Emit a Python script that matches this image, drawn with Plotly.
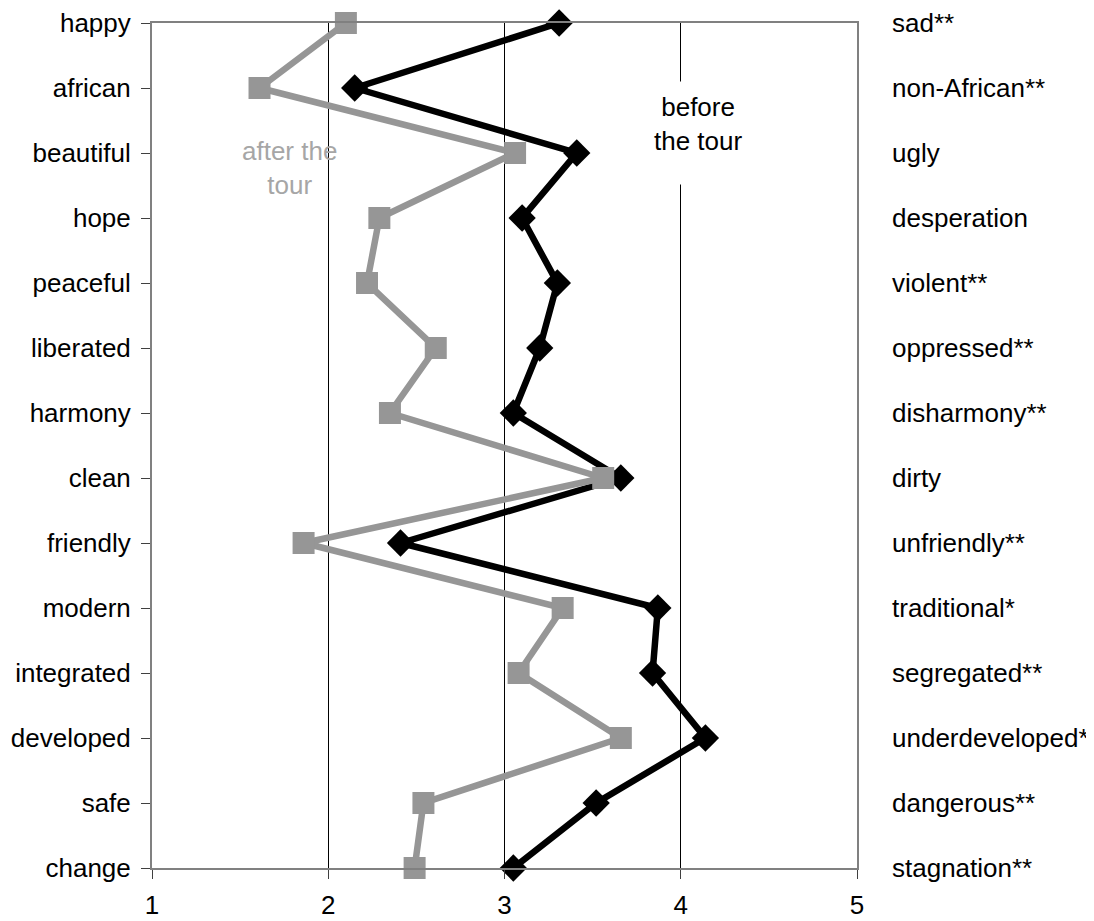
import plotly.graph_objects as go

left_labels = ["happy", "african", "beautiful", "hope", "peaceful", "liberated", "harmony",
               "clean", "friendly", "modern", "integrated", "developed", "safe", "change"]
right_labels = ["sad**", "non-African**", "ugly", "desperation", "violent**", "oppressed**",
                "disharmony**", "dirty", "unfriendly**", "traditional*", "segregated**",
                "underdeveloped*", "dangerous**", "stagnation**"]
before_tour = [3.31, 2.15, 3.41, 3.10, 3.30, 3.20, 3.05, 3.66, 2.41, 3.87, 3.84, 4.14, 3.52, 3.05]
after_tour = [2.10, 1.61, 3.06, 2.29, 2.22, 2.61, 2.35, 3.56, 1.86, 3.33, 3.08, 3.66, 2.54, 2.49]
x_ticks = [1, 2, 3, 4, 5]

idx = list(range(len(left_labels)))
FONT = "Arial, Liberation Sans, sans-serif"

fig = go.Figure()
fig.add_trace(go.Scatter(
    x=before_tour, y=idx, mode="lines+markers", name="before the tour",
    line=dict(color="#000000", width=6.5),
    marker=dict(symbol="diamond", size=21, color="#000000"),
    cliponaxis=False, showlegend=False))
fig.add_trace(go.Scatter(
    x=after_tour, y=idx, mode="lines+markers", name="after the tour",
    line=dict(color="#969696", width=6.5),
    marker=dict(symbol="square", size=22, color="#969696"),
    cliponaxis=False, showlegend=False))
# invisible trace to anchor the right-hand axis
fig.add_trace(go.Scatter(
    x=before_tour, y=idx, yaxis="y2", mode="markers",
    marker=dict(opacity=0), hoverinfo="skip", showlegend=False))

fig.update_layout(
    width=1086, height=913,
    margin=dict(l=144, r=237, t=15, b=53),
    paper_bgcolor="white", plot_bgcolor="white",
    font=dict(family=FONT, size=26, color="#000000"),
    xaxis=dict(range=[1, 5], tickvals=x_ticks, ticktext=[str(v) for v in x_ticks],
               showgrid=True, gridcolor="#000000", gridwidth=1,
               showline=True, linecolor="#808080", linewidth=2, mirror=True,
               ticks="outside", ticklen=9, tickcolor="#404040", tickwidth=1,
               ticklabelstandoff=4,
               zeroline=False, automargin=False, tickfont=dict(size=26)),
    yaxis=dict(range=[13, 0], tickvals=idx, ticktext=left_labels,
               showgrid=False, showline=True, linecolor="#808080", linewidth=2, mirror=True,
               ticks="outside", ticklen=9, tickcolor="#404040", tickwidth=1,
               ticklabelstandoff=5,
               zeroline=False, automargin=False, tickfont=dict(size=26)),
    yaxis2=dict(range=[13, 0], tickvals=idx, ticktext=right_labels,
                overlaying="y", side="right", showgrid=False, showline=False,
                ticks="", zeroline=False, ticklabelstandoff=34, automargin=False,
                tickfont=dict(size=26)),
    annotations=[
        # white box hiding the gridline behind the "before the tour" label
        dict(x=4.10, y=1.69, xref="x", yref="y", text=" ",
             showarrow=False, bgcolor="white", height=100, width=120,
             font=dict(size=26, color="#000000", family=FONT)),
        dict(x=4.10, y=1.56, xref="x", yref="y", text="before<br>the tour",
             showarrow=False,
             font=dict(size=26, color="#000000", family=FONT)),
        dict(x=1.78, y=2.23, xref="x", yref="y", text="after the<br>tour",
             showarrow=False, font=dict(size=26, color="#a6a6a6", family=FONT)),
    ],
)

fig.write_html("out.html")
